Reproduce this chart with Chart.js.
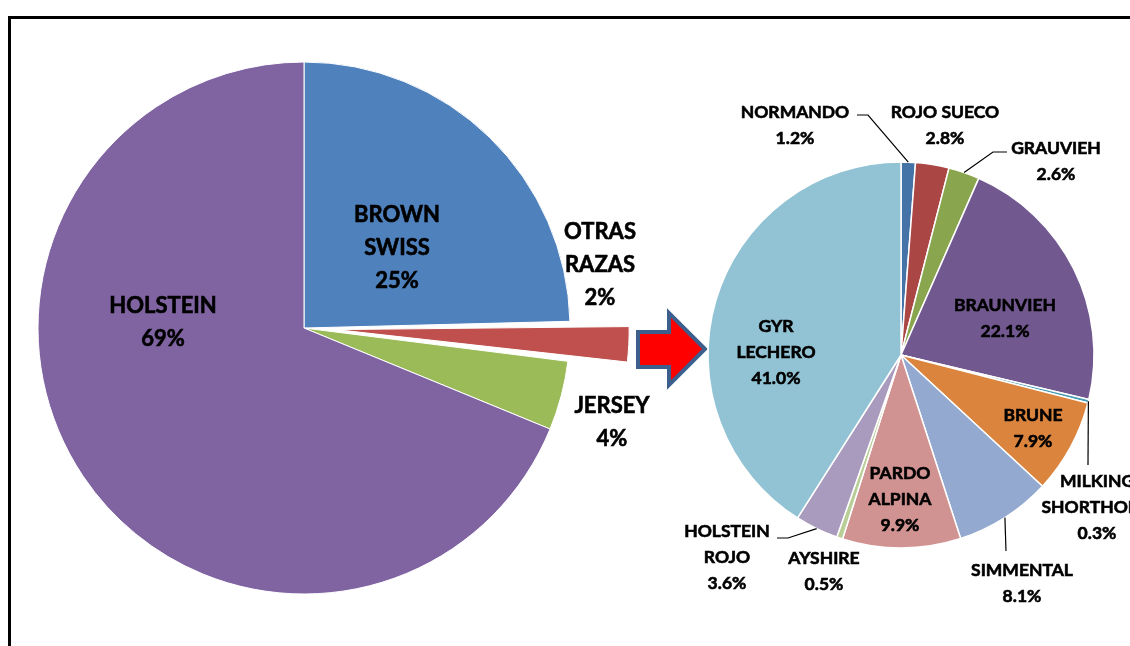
<!DOCTYPE html>
<html>
<head>
<meta charset="utf-8">
<script src="https://cdn.jsdelivr.net/npm/chart.js@4/dist/chart.umd.min.js"></script>
<style>
  html, body { margin: 0; padding: 0; background: #fff; overflow: hidden; }
  #frame {
    position: absolute; left: 8px; top: 16px; width: 1200px; height: 700px;
    border: 3px solid #000; box-sizing: border-box;
  }
  canvas { position: absolute; left: 0; top: 0; }
</style>
</head>
<body>
<div id="frame"></div>
<canvas id="main-pie" width="1130" height="646"></canvas>
<canvas id="detail-pie" width="1130" height="646"></canvas>
<script>
// Main pie, clockwise from 12 o'clock (labels print the rounded share)
const mainBreeds = [['BROWN', 'SWISS'], ['OTRAS', 'RAZAS'], ['JERSEY'], ['HOLSTEIN']];
const mainShares = [24.6, 2.4, 4.2, 68.8];
const mainColors = ['#4F81BD', '#C0504D', '#9BBB59', '#8064A2'];

// Breakdown of "otras razas", clockwise from 12 o'clock
const otherBreeds = [
  ['NORMANDO'], ['ROJO SUECO'], ['GRAUVIEH'], ['BRAUNVIEH'], ['MILKING', 'SHORTHORN'],
  ['BRUNE'], ['SIMMENTAL'], ['PARDO', 'ALPINA'], ['AYSHIRE'], ['HOLSTEIN', 'ROJO'], ['GYR', 'LECHERO'],
];
const otherShares = [1.2, 2.8, 2.6, 22.1, 0.3, 7.9, 8.1, 9.9, 0.5, 3.6, 41.0];
const otherColors = [
  '#4572A7', '#AA4643', '#89A54E', '#71588F', '#4198AF',
  '#DB843D', '#93A9CF', '#D19392', '#B9CD96', '#A99BBD', '#92C3D4',
];

// Label placement relative to the pie centre (leader = elbow points toward the slice)
const mainLabelLayout = [
  { dx: 93, dy: -80 },
  { dx: 296, dy: -63 },
  { dx: 308, dy: 94 },
  { dx: -141, dy: -6 },
];
const otherLabelLayout = [
  { dx: -106, dy: -230, leader: [[-44, -240], [-33, -240]] },
  { dx: 44, dy: -230 },
  { dx: 155, dy: -194, leader: [[106, -203], [92, -203]] },
  { dx: 104, dy: -37 },
  { dx: 196, dy: 152, leader: [[187, 110]] },
  { dx: 132, dy: 73 },
  { dx: 121, dy: 228, leader: [[105, 196]] },
  { dx: -1, dy: 144 },
  { dx: -77, dy: 216 },
  { dx: -174, dy: 202, leader: [[-124, 183], [-113, 183]] },
  { dx: -125, dy: -3 },
];

const breedLabels = {
  id: 'breedLabels',
  afterDatasetsDraw(chart, args, opts) {
    const ctx = chart.ctx;
    const arcs = chart.getDatasetMeta(0).data;
    const values = chart.data.datasets[0].data;
    ctx.save();
    ctx.font = `bold ${opts.size}px Lato, "Open Sans", sans-serif`;
    ctx.fillStyle = '#000';
    ctx.strokeStyle = '#000';
    ctx.textAlign = 'center';
    ctx.textBaseline = 'middle';
    arcs.forEach((arc, i) => {
      const { x, y, startAngle, endAngle, outerRadius } = arc.getProps(
        ['x', 'y', 'startAngle', 'endAngle', 'outerRadius'], true);
      const place = opts.layout[i];
      if (place.leader) {
        const mid = (startAngle + endAngle) / 2;
        ctx.lineWidth = 1.2;
        ctx.beginPath();
        place.leader.forEach(([px, py], k) => {
          if (k === 0) ctx.moveTo(x + px, y + py);
          else ctx.lineTo(x + px, y + py);
        });
        ctx.lineTo(x + Math.cos(mid) * outerRadius, y + Math.sin(mid) * outerRadius);
        ctx.stroke();
      }
      const lines = [...opts.names[i], opts.format(values[i])];
      const top = y + place.dy - (lines.length - 1) * opts.lineHeight / 2;
      ctx.lineWidth = 0.6; // a touch heavier, closer to the original bold face
      lines.forEach((txt, k) => {
        ctx.fillText(txt, x + place.dx, top + k * opts.lineHeight);
        ctx.strokeText(txt, x + place.dx, top + k * opts.lineHeight);
      });
    });
    ctx.restore();
  },
};

// Arrow pointing from the main pie to the breakdown
const linkArrow = {
  id: 'linkArrow',
  afterDraw(chart) {
    const ctx = chart.ctx;
    ctx.save();
    ctx.beginPath();
    ctx.moveTo(638, 332);
    ctx.lineTo(669, 332);
    ctx.lineTo(669, 313);
    ctx.lineTo(705, 349);
    ctx.lineTo(669, 385);
    ctx.lineTo(669, 367);
    ctx.lineTo(638, 367);
    ctx.closePath();
    ctx.fillStyle = '#FF0000';
    ctx.fill();
    ctx.lineWidth = 4;
    ctx.lineJoin = 'miter';
    ctx.strokeStyle = '#3C5F8E';
    ctx.stroke();
    ctx.restore();
  },
};

function pieOptions(padding, labels) {
  return {
    responsive: false,
    animation: false,
    layout: { padding: padding },
    events: [],
    plugins: {
      legend: { display: false },
      tooltip: { enabled: false },
      breedLabels: labels,
    },
  };
}

new Chart(document.getElementById('main-pie'), {
  type: 'pie',
  data: {
    labels: mainBreeds.map((n) => n.join(' ')),
    datasets: [{
      data: mainShares,
      backgroundColor: mainColors,
      borderColor: '#fff',
      borderWidth: 1,
      offset: [0, 128, 0, 0],
      radius: 266,
      clip: false,
    }],
  },
  options: pieOptions({ left: 0, right: 522, top: 10, bottom: 0 }, {
    names: mainBreeds,
    format: (v) => Math.round(v) + '%',
    layout: mainLabelLayout,
    size: 22,
    lineHeight: 33,
  }),
  plugins: [breedLabels, linkArrow],
});

new Chart(document.getElementById('detail-pie'), {
  type: 'pie',
  data: {
    labels: otherBreeds.map((n) => n.join(' ')),
    datasets: [{
      data: otherShares,
      backgroundColor: otherColors,
      borderColor: '#fff',
      borderWidth: 1.5,
      radius: 193,
      clip: false,
    }],
  },
  options: pieOptions({ left: 672, right: 0, top: 64, bottom: 0 }, {
    names: otherBreeds,
    format: (v) => v.toFixed(1) + '%',
    layout: otherLabelLayout,
    size: 17.5,
    lineHeight: 26,
  }),
  plugins: [breedLabels],
});
</script>
</body>
</html>
